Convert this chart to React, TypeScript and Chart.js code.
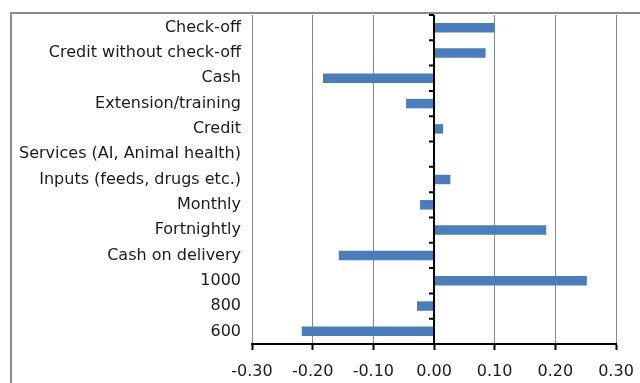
import React, { useEffect, useRef } from "react";
import { Chart, registerables } from "chart.js";

Chart.register(...registerables);

const categories = [
  "Check-off",
  "Credit without check-off",
  "Cash",
  "Extension/training",
  "Credit",
  "Services (AI, Animal health)",
  "Inputs (feeds, drugs etc.)",
  "Monthly",
  "Fortnightly",
  "Cash on delivery",
  "1000",
  "800",
  "600",
];
const values = [0.1, 0.085, -0.183, -0.046, 0.015, 0, 0.027, -0.023, 0.185, -0.157, 0.252, -0.028, -0.218];
const xMin = -0.3;
const xMax = 0.3;
const xStep = 0.1;

const FONT = "'DejaVu Sans', sans-serif";

const zeroAxisPlugin = {
  id: "zeroAxis",
  afterDatasetsDraw(chart: any) {
    const { ctx, chartArea, scales } = chart;
    const x = scales.x.getPixelForValue(0);
    const y = scales.y;
    ctx.save();
    ctx.strokeStyle = "#000";
    ctx.lineWidth = 2;
    ctx.beginPath();
    ctx.moveTo(x, chartArea.top);
    ctx.lineTo(x, chartArea.bottom);
    for (let i = 0; i <= categories.length; i++) {
      const yy = y.getPixelForValue(i - 0.5);
      ctx.moveTo(x - 5, yy);
      ctx.lineTo(x, yy);
    }
    ctx.stroke();
    ctx.restore();
  },
};

export default function App() {
  const ref = useRef<HTMLCanvasElement>(null);
  useEffect(() => {
    const chart = new Chart(ref.current!, {
      type: "bar",
      data: {
        labels: categories,
        datasets: [
          {
            data: values,
            backgroundColor: "#4a7ebb",
            borderWidth: 0,
            barPercentage: 0.375,
            categoryPercentage: 1,
          },
        ],
      },
      options: {
        indexAxis: "y",
        animation: false,
        responsive: false,
        maintainAspectRatio: false,
        layout: { padding: { left: 0, right: 24, top: 15, bottom: 0 } },
        plugins: { legend: { display: false }, tooltip: { enabled: false } },
        scales: {
          x: {
            min: xMin,
            max: xMax,
            ticks: {
              stepSize: xStep,
              padding: 12,
              color: "#1a1a1a",
              font: { family: FONT, size: 16 },
              callback: (v: any) => (Math.abs(Number(v)) < 1e-9 ? 0 : Number(v)).toFixed(2),
            },
            grid: {
              color: (c: any) => (c.tick && Math.abs(c.tick.value) < 1e-9 ? "rgba(0,0,0,0)" : "#868686"),
              lineWidth: 1,
              tickColor: "#000",
              tickLength: 6,
              tickWidth: 2,
            },
            border: { color: "#000", width: 2 },
            afterFit: (s: any) => {
              s.height = 39;
              s.paddingLeft = 0;
              s.paddingRight = 0;
            },
          },
          y: {
            ticks: {
              padding: 3,
              color: "#1a1a1a",
              font: { family: FONT, size: 16 },
              autoSkip: false,
            },
            grid: { display: false },
            border: { display: false },
            afterFit: (s: any) => {
              s.width = 252;
            },
          },
        },
      },
      plugins: [zeroAxisPlugin],
    });
    return () => chart.destroy();
  }, []);
  return (
    <div style={{ position: "fixed", left: 0, top: 0, width: 640, height: 383, background: "#fff", overflow: "hidden" }}>
      <div
        style={{
          position: "absolute",
          left: 10,
          top: 12,
          width: 700,
          height: 500,
          border: "2px solid #8c8c8c",
          boxSizing: "border-box",
        }}
      />
      <canvas ref={ref} width={640} height={383} style={{ position: "absolute", left: 0, top: 0 }} />
    </div>
  );
}
